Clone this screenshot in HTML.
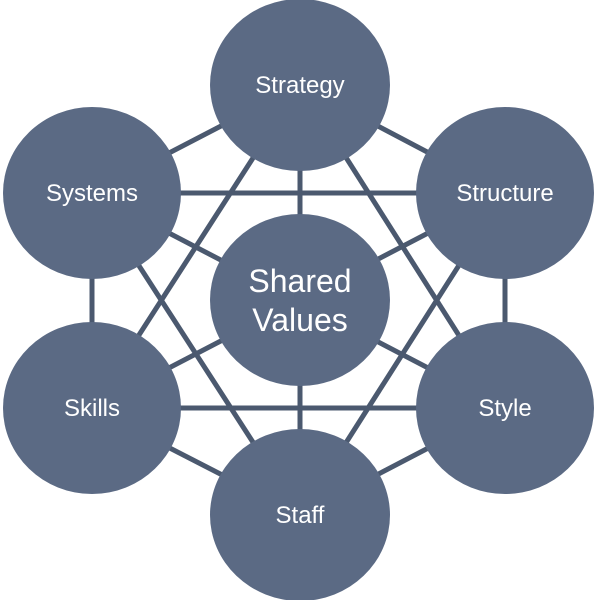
<!DOCTYPE html>
<html><head><style>body{margin:0;background:#fff}svg{display:block}</style></head><body>
<svg width="600" height="600" viewBox="0 0 600 600" xmlns="http://www.w3.org/2000/svg">
<g stroke="#4b596f" stroke-width="5">
<line x1="300" y1="85" x2="505" y2="193"/><line x1="300" y1="85" x2="505" y2="408"/><line x1="300" y1="85" x2="300" y2="515"/><line x1="300" y1="85" x2="92" y2="408"/><line x1="300" y1="85" x2="92" y2="193"/>
<line x1="505" y1="193" x2="505" y2="408"/><line x1="505" y1="193" x2="300" y2="515"/><line x1="505" y1="193" x2="92" y2="408"/><line x1="505" y1="193" x2="92" y2="193"/>
<line x1="505" y1="408" x2="300" y2="515"/><line x1="505" y1="408" x2="92" y2="408"/><line x1="505" y1="408" x2="92" y2="193"/>
<line x1="300" y1="515" x2="92" y2="408"/><line x1="300" y1="515" x2="92" y2="193"/>
<line x1="92" y1="408" x2="92" y2="193"/>
</g>
<g fill="#5b6a84">
<ellipse cx="300" cy="85" rx="90" ry="86"/>
<ellipse cx="505" cy="193" rx="89" ry="86"/>
<ellipse cx="505" cy="408" rx="89" ry="86"/>
<ellipse cx="300" cy="515" rx="90" ry="86"/>
<ellipse cx="92" cy="408" rx="89" ry="86"/>
<ellipse cx="92" cy="193" rx="89" ry="86"/>
<ellipse cx="300" cy="300" rx="90" ry="86"/>
</g>
<g fill="#fff" font-family="Liberation Sans, sans-serif" font-size="24" text-anchor="middle">
<text x="300" y="93">Strategy</text>
<text x="505" y="201">Structure</text>
<text x="505" y="416">Style</text>
<text x="300" y="523">Staff</text>
<text x="92" y="416">Skills</text>
<text x="92" y="201">Systems</text>
<text x="300" y="292" font-size="32">Shared</text>
<text x="300" y="331" font-size="32">Values</text>
</g>
</svg>
</body></html>
